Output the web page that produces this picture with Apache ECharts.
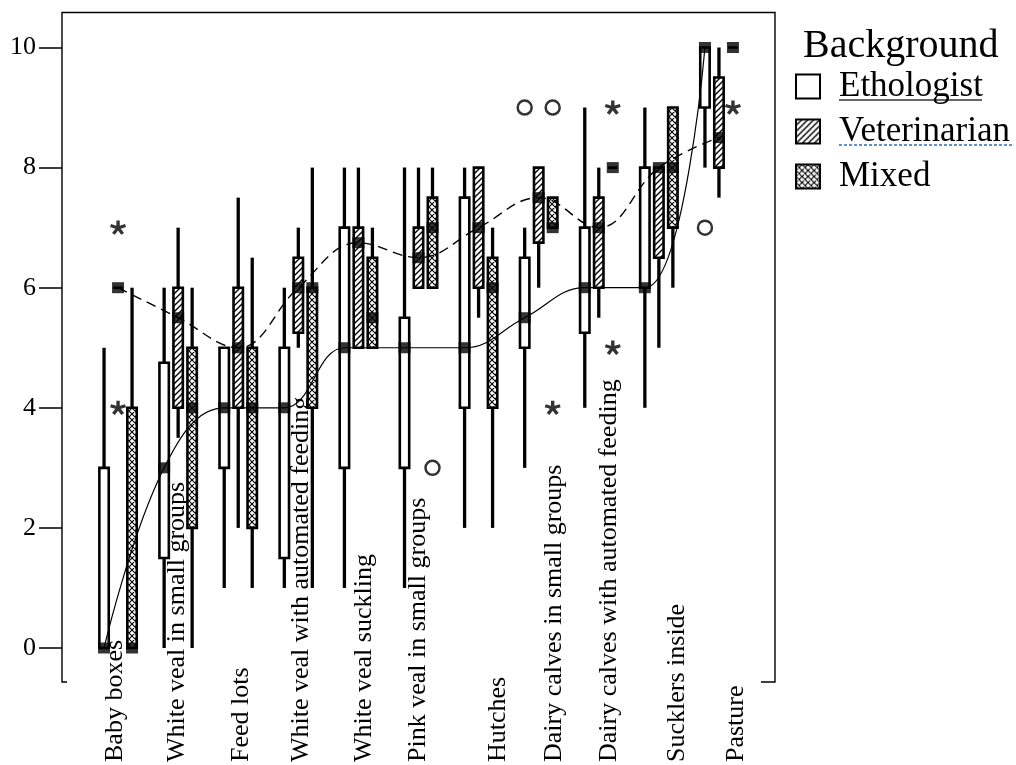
<!DOCTYPE html>
<html><head><meta charset="utf-8">
<script src="https://cdn.jsdelivr.net/npm/echarts@6/dist/echarts.min.js"></script>
<style>html,body{margin:0;padding:0;background:#fff}#chart{width:1016px;height:765px}</style>
</head><body><div id="chart"></div>
<script>
// ---------- data ----------
const categories = ['Baby boxes','White veal in small groups','Feed lots','White veal with automated feeding','White veal suckling','Pink veal in small groups','Hutches','Dairy calves in small groups','Dairy calves with automated feeding','Sucklers inside','Pasture'];
const groups = ['Ethologist','Veterinarian','Mixed'];
const yTickValues = [0,2,4,6,8,10];
const yTickLabels = ['0','2','4','6','8','10'];
// [min, Q1, median, Q3, max]
const ethologist = [
  [0,0,0,3,5],[0,1.5,3,4.75,6],[1,3,4,5,5],[1,1.5,4,5,6],[1,3,5,7,8],[1,3,5,5.5,8],
  [2,4,5,7.5,8],[3,5,5.5,6.5,7],[4,5.25,6,7,9],[4,6,6,8,9],[8,9,10,10,10]
];
const veterinarian = [
  [6,6,6,6,6],[3.5,4,5.5,6,7],[2,4,5,6,7.5],[5,5.25,6,6.5,7],[5,5,6.75,7,8],[6,6,6.5,7,8],
  [5.5,6,7,8,8],[6,6.75,7.5,8,8],[5.5,6,7,7.5,8],[5,6.5,8,8,8],[7.5,8,8.5,9.5,10]
];
const mixed = [
  [0,0,0,4,6],[0,2,4,5,6],[1,2,4,5,6.5],[1,4,6,6,8],[5,5,5.5,6.5,7],[6,6,7,7.5,8],
  [2,4,6,6.5,7],[7,7,7,7.5,7.5],[8,8,8,8,8],[6,7,8,9,9],[10,10,10,10,10]
];
// outliers: [category index, group index, value]
const outlierCircles = [[5,2,3],[7,0,9],[7,2,9],[10,0,7]];
const outlierStars = [[0,1,7],[0,1,4],[7,2,4],[8,2,9],[8,2,5],[10,2,9]];

// ---------- layout / style constants ----------
const FONT = 'Liberation Serif';
const BAND_PX = 60.1;                                  // px per category band
const GROUP_OFFSET = [-0.233, 0, 0.233];               // fraction of a category band
const LABEL_SHIFT_PX = [-3,-1,3,3,6,0,20,15,10,18,17]; // px shift of rotated labels

function makePattern(kind){
  const c = document.createElement('canvas');
  const s = 6; c.width = s; c.height = s;
  const g = c.getContext('2d');
  g.fillStyle = '#fff'; g.fillRect(0,0,s,s);
  g.strokeStyle = '#000'; g.lineWidth = kind === 'hatch' ? 1.4 : 1.1;
  g.beginPath();
  g.moveTo(-1,s+1); g.lineTo(s+1,-1);
  g.moveTo(-1,1); g.lineTo(1,-1);
  g.moveTo(s-1,s+1); g.lineTo(s+1,s-1);
  if (kind === 'cross'){
    g.moveTo(-1,-1); g.lineTo(s+1,s+1);
    g.moveTo(s-1,-1); g.lineTo(s+1,1);
    g.moveTo(-1,s-1); g.lineTo(1,s+1);
  }
  g.stroke();
  return {image: c, repeat: 'repeat'};
}
const fills = ['#ffffff', makePattern('hatch'), makePattern('cross')];

function starPath(){
  let d = ''; const L = 7, hw = 1.5;
  for (let k = 0; k < 5; k++){
    const a = k*72*Math.PI/180;
    const dx = Math.sin(a), dy = -Math.cos(a), px = Math.cos(a), py = Math.sin(a);
    const pts = [[px*hw,py*hw],[dx*L+px*hw,dy*L+py*hw],[dx*L-px*hw,dy*L-py*hw],[-px*hw,-py*hw]];
    d += 'M' + pts.map(p => p[0].toFixed(2)+','+p[1].toFixed(2)).join('L') + 'Z';
  }
  return 'path://' + d;
}

const stats = [ethologist, veterinarian, mixed];
const series = [];
stats.forEach((arr, g) => {
  series.push({
    name: groups[g], type: 'custom', xAxisIndex: 0, yAxisIndex: 0, z: 2,
    itemStyle: {color: fills[g], borderColor: '#000', borderWidth: 2},
    encode: {x: 0, y: [1,2,3,4,5]},
    data: arr.map((v, i) => [i + GROUP_OFFSET[g]].concat(v)),
    renderItem: function(params, api){
      const x = api.value(0);
      const lo = api.coord([x, api.value(1)]);
      const q1 = api.coord([x, api.value(2)]);
      const q3 = api.coord([x, api.value(4)]);
      const hi = api.coord([x, api.value(5)]);
      const cx = lo[0], hw = 4.7;
      return {type: 'group', children: [
        {type:'line', shape:{x1:cx,y1:lo[1],x2:cx,y2:q1[1]}, style:{stroke:'#000', lineWidth:3.3}},
        {type:'line', shape:{x1:cx,y1:q3[1],x2:cx,y2:hi[1]}, style:{stroke:'#000', lineWidth:3.3}},
        {type:'rect', shape:{x:cx-hw, y:q3[1], width:2*hw, height:q1[1]-q3[1]},
         style:{fill: fills[g], stroke:'#000', lineWidth:2.6}}
      ]};
    }
  });
});
// median trend lines (Ethologist solid, Veterinarian dashed)
[[0,'solid',1.2],[1,[10,6],1.4]].forEach(([g, type, w]) => {
  series.push({
    name: groups[g] + ' median trend', type: 'line', xAxisIndex: 0, yAxisIndex: 0, z: 3,
    smooth: 0.4, symbol: 'none', silent: true,
    lineStyle: {color: '#000', width: w, type: type},
    data: stats[g].map((v, i) => [i + GROUP_OFFSET[g], v[2]])
  });
});
// median markers
stats.forEach((arr, g) => {
  series.push({
    name: groups[g] + ' median', type: 'scatter', xAxisIndex: 0, yAxisIndex: 0, z: 5,
    symbol: 'rect', symbolSize: [12, 11], itemStyle: {color: '#000'},
    data: arr.map((v, i) => [i + GROUP_OFFSET[g], v[2]])
  });
});
series.push({
  name: 'outlier', type: 'scatter', xAxisIndex: 0, yAxisIndex: 0, z: 5,
  symbol: 'circle', symbolSize: 14,
  itemStyle: {color: '#fff', borderColor: '#000', borderWidth: 2.5},
  data: outlierCircles.map(o => [o[0] + GROUP_OFFSET[o[1]], o[2]])
});
series.push({
  name: 'extreme', type: 'scatter', xAxisIndex: 0, yAxisIndex: 0, z: 5,
  symbol: starPath(), symbolSize: [16, 15], symbolKeepAspect: true,
  itemStyle: {color: '#000'},
  data: outlierStars.map(o => [o[0] + GROUP_OFFSET[o[1]], o[2]])
});

const labelPositions = categories.map((c, i) => i + LABEL_SHIFT_PX[i] / BAND_PX);

const chart = echarts.init(document.getElementById('chart'), null, {renderer: 'canvas'});
chart.setOption({
  animation: false,
  backgroundColor: '#fff',
  grid: [
    {left: 88, right: 267, top: 47.5, bottom: 117, outerBoundsMode: 'none', containLabel: false},
    {left: 88, right: 267, top: 762, height: 1, outerBoundsMode: 'none', containLabel: false}
  ],
  title: {text: 'Background', left: 803, top: 26, padding: 0,
    textStyle: {fontFamily: FONT, fontSize: 40, fontWeight: 'normal', color: '#000'}},
  legend: {
    data: groups, orient: 'vertical', left: 795, top: 69, padding: 0,
    icon: 'rect', itemWidth: 24, itemHeight: 24, itemGap: 10, selectedMode: false,
    itemStyle: {borderColor: '#000', borderWidth: 2},
    textStyle: {fontFamily: FONT, fontSize: 35, color: '#000', padding: [0,0,0,14]}
  },
  xAxis: [
    {type: 'value', gridIndex: 0, min: -0.5, max: 10.5, show: false},
    {type: 'value', gridIndex: 1, position: 'top', min: -0.5, max: 10.5,
     axisLine: {show: false}, axisTick: {show: false}, splitLine: {show: false},
     axisLabel: {customValues: labelPositions, rotate: 90, margin: 0, hideOverlap: false,
       showMinLabel: true, showMaxLabel: true,
       formatter: v => categories[Math.round(v)],
       fontFamily: FONT, fontSize: 26, color: '#000'}}
  ],
  yAxis: [
    {type: 'value', gridIndex: 0, min: yTickValues[0], max: yTickValues[yTickValues.length-1], interval: 2, offset: 26,
     axisLine: {show: false, onZero: false}, splitLine: {show: false},
     axisTick: {show: true, length: 23, lineStyle: {color: '#000', width: 1.5}},
     axisLabel: {margin: 26, fontFamily: FONT, fontSize: 26, color: '#000',
       formatter: v => yTickLabels[yTickValues.indexOf(Math.round(v))]}},
    {type: 'value', gridIndex: 1, show: false}
  ],
  graphic: [
    {type: 'polyline', silent: true, z: 10,
     shape: {points: [[67,682],[62,682],[62,12.5],[775,12.5],[775,682],[761,682]]},
     style: {stroke: '#000', lineWidth: 1.4, fill: null}},
    {type: 'line', silent: true, shape: {x1: 839, y1: 100, x2: 982, y2: 100}, style: {stroke: '#333', lineWidth: 1.6}},
    {type: 'line', silent: true, shape: {x1: 839, y1: 145, x2: 1013, y2: 145}, style: {stroke: '#2e6fb5', lineWidth: 1.4, lineDash: [3,2]}}
  ],
  series: series
});
</script></body></html>
